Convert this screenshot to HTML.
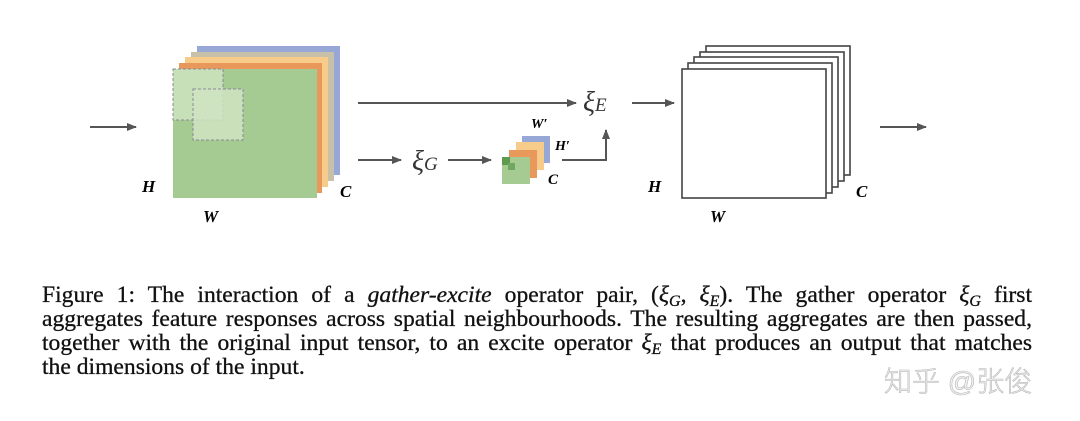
<!DOCTYPE html>
<html><head><meta charset="utf-8"><style>
body{margin:0;width:1080px;height:421px;background:#fff;overflow:hidden;position:relative;font-family:"Liberation Serif",serif}
.cap{position:absolute;left:42px;width:990px;font-size:23.6px;color:#111;-webkit-text-stroke:0.3px #111;text-align:justify;text-align-last:justify;white-space:nowrap;line-height:24px}
.cap.l{text-align-last:left}
sub{font-size:16px;vertical-align:-4px;font-style:italic;line-height:0}
</style></head><body>
<svg width="1080" height="280" style="position:absolute;left:0;top:0" font-family="Liberation Serif" font-style="italic" font-weight="bold">
<defs><marker id="a" markerWidth="10" markerHeight="8" refX="9" refY="4" orient="auto" markerUnits="userSpaceOnUse"><path d="M0,0L10,4L0,8z" fill="#555"/></marker></defs>
<g stroke="#555" stroke-width="2" fill="none" marker-end="url(#a)">
<line x1="90" y1="127" x2="136" y2="127"/>
<line x1="358" y1="103" x2="576" y2="103"/>
<line x1="358" y1="160" x2="401" y2="160"/>
<line x1="448" y1="160" x2="491" y2="160"/>
<polyline points="562,160 606,160 606,130"/>
<line x1="632" y1="103" x2="674" y2="103"/>
<line x1="880" y1="127" x2="926" y2="127"/>
</g>
<rect x="197" y="46" width="143" height="129" fill="#98a8d6"/>
<rect x="191" y="52" width="143" height="129" fill="#c8c0a8"/>
<rect x="185" y="57" width="143" height="130" fill="#f7cc8a"/>
<rect x="179" y="63" width="143" height="130" fill="#e8985a"/>
<rect x="173" y="69" width="144" height="129" fill="#a6cb92"/>
<rect x="173" y="69" width="50" height="51" fill="#c7e0b8" stroke="#889" stroke-dasharray="3,2" stroke-width="1"/>
<rect x="193" y="89" width="50" height="51" fill="#cfe4c2" fill-opacity="0.85" stroke="#889" stroke-dasharray="3,2" stroke-width="1"/>
<text x="142" y="192" font-size="17">H</text>
<text x="203" y="222" font-size="17">W</text>
<text x="340" y="197" font-size="17">C</text>
<rect x="522" y="136" width="28" height="27" fill="#98a8d6"/>
<rect x="516" y="142" width="28" height="28" fill="#f7cc8a"/>
<rect x="509" y="150" width="28" height="28" fill="#e8985a"/>
<rect x="502" y="157" width="28" height="27" fill="#a6cb92"/>
<rect x="502" y="157" width="8" height="8" fill="#5f9a4e"/>
<rect x="508" y="163" width="7" height="7" fill="#6fa85e"/>
<text x="531" y="128" font-size="14">W′</text>
<text x="555" y="150" font-size="14">H′</text>
<text x="548" y="184" font-size="15">C</text>
<g font-weight="normal" font-size="28" fill="#333"><text x="412" y="170">ξ<tspan font-size="19">G</tspan></text>
<text x="583" y="111">ξ<tspan font-size="19">E</tspan></text></g>
<g fill="#fff" stroke="#444" stroke-width="1.6">
<rect x="706" y="46" width="144" height="129"/>
<rect x="700" y="52" width="144" height="129"/>
<rect x="694" y="57" width="144" height="130"/>
<rect x="688" y="63" width="144" height="130"/>
<rect x="682" y="69" width="144" height="129"/>
</g>
<text x="648" y="192" font-size="17">H</text>
<text x="710" y="222" font-size="17">W</text>
<text x="856" y="197" font-size="17">C</text>
</svg>
<div class="cap" style="top:283px">Figure 1: The interaction of a <i>gather-excite</i> operator pair, (<i>ξ</i><sub>G</sub>, <i>ξ</i><sub>E</sub>). The gather operator <i>ξ</i><sub>G</sub> first</div>
<div class="cap" style="top:307px">aggregates feature responses across spatial neighbourhoods. The resulting aggregates are then passed,</div>
<div class="cap" style="top:331px">together with the original input tensor, to an excite operator <i>ξ</i><sub>E</sub> that produces an output that matches</div>
<div class="cap l" style="top:355px">the dimensions of the input.</div>
<div style="position:absolute;left:884px;top:360px;font-family:'Liberation Sans','Noto Sans CJK SC',sans-serif;font-weight:300;font-size:28px;color:#f0f0f0;-webkit-text-stroke:0.6px #b8b8b8;white-space:nowrap">知乎 @张俊</div>
</body></html>
